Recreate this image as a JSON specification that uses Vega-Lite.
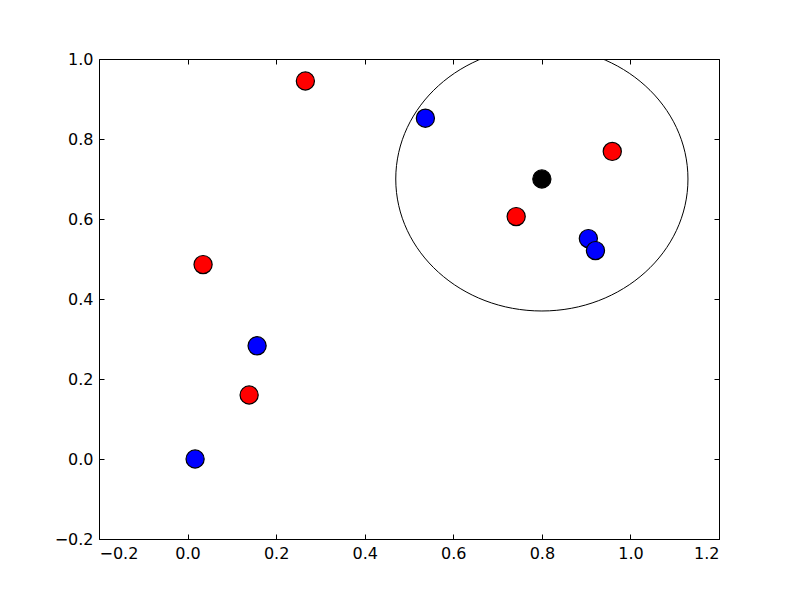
{
  "$schema": "https://vega.github.io/schema/vega-lite/v6.json",
  "width": 620,
  "height": 480,
  "autosize": {"type": "none"},
  "padding": {"left": 99, "top": 59, "right": 81, "bottom": 61},
  "background": "white",
  "config": {
    "view": {"stroke": "black", "strokeWidth": 1},
    "axis": {
      "domain": false,
      "grid": false,
      "title": null,
      "ticks": true,
      "tickColor": "black",
      "tickSize": 5,
      "tickWidth": 1,
      "offset": -5,
      "labelFont": "DejaVu Sans",
      "labelFontSize": 16,
      "labelColor": "black",
      "labelPadding": 6,
      "format": ".1f"
    }
  },
  "datasets": {
    "circle": [{"x": 0.8, "y": 0.7, "r": 0.33}],
    "points": [
      {"x": 0.017, "y": 0.0, "c": "blue"},
      {"x": 0.157, "y": 0.283, "c": "blue"},
      {"x": 0.537, "y": 0.852, "c": "blue"},
      {"x": 0.905, "y": 0.551, "c": "blue"},
      {"x": 0.921, "y": 0.521, "c": "blue"},
      {"x": 0.035, "y": 0.486, "c": "red"},
      {"x": 0.139, "y": 0.160, "c": "red"},
      {"x": 0.266, "y": 0.945, "c": "red"},
      {"x": 0.742, "y": 0.606, "c": "red"},
      {"x": 0.959, "y": 0.769, "c": "red"},
      {"x": 0.8, "y": 0.7, "c": "black"}
    ]
  },
  "layer": [
    {
      "data": {"name": "circle"},
      "mark": {
        "type": "point",
        "shape": "M 1 0 C 1 0.499 0.5523 0.9034 0 0.9034 C -0.5523 0.9034 -1 0.499 -1 0 C -1 -0.499 -0.5523 -0.9034 0 -0.9034 C 0.5523 -0.9034 1 -0.499 1 0 Z",
        "size": 85382,
        "filled": false,
        "stroke": "black",
        "strokeWidth": 1,
        "opacity": 1,
        "clip": true
      },
      "encoding": {
        "x": {"field": "x", "type": "quantitative",
              "scale": {"domain": [-0.2, 1.2], "nice": false, "zero": false},
              "axis": {"orient": "bottom", "values": [-0.2, 0, 0.2, 0.4, 0.6, 0.8, 1.0, 1.2]}},
        "y": {"field": "y", "type": "quantitative",
              "scale": {"domain": [-0.2, 1.0], "nice": false, "zero": false},
              "axis": {"orient": "left", "values": [-0.2, 0, 0.2, 0.4, 0.6, 0.8, 1.0]}}
      }
    },
    {
      "data": {"name": "points"},
      "mark": {"type": "point", "filled": true, "size": 330, "stroke": "black", "strokeWidth": 1.2, "opacity": 1},
      "encoding": {
        "x": {"field": "x", "type": "quantitative",
              "axis": {"orient": "top", "labels": false, "values": [-0.2, 0, 0.2, 0.4, 0.6, 0.8, 1.0, 1.2]}},
        "y": {"field": "y", "type": "quantitative",
              "axis": {"orient": "right", "labels": false, "values": [-0.2, 0, 0.2, 0.4, 0.6, 0.8, 1.0]}},
        "fill": {"field": "c", "type": "nominal",
                 "scale": {"domain": ["blue", "red", "black"], "range": ["#0000ff", "#ff0000", "#000000"]},
                 "legend": null}
      }
    }
  ],
  "resolve": {"axis": {"x": "independent", "y": "independent"}}
}
